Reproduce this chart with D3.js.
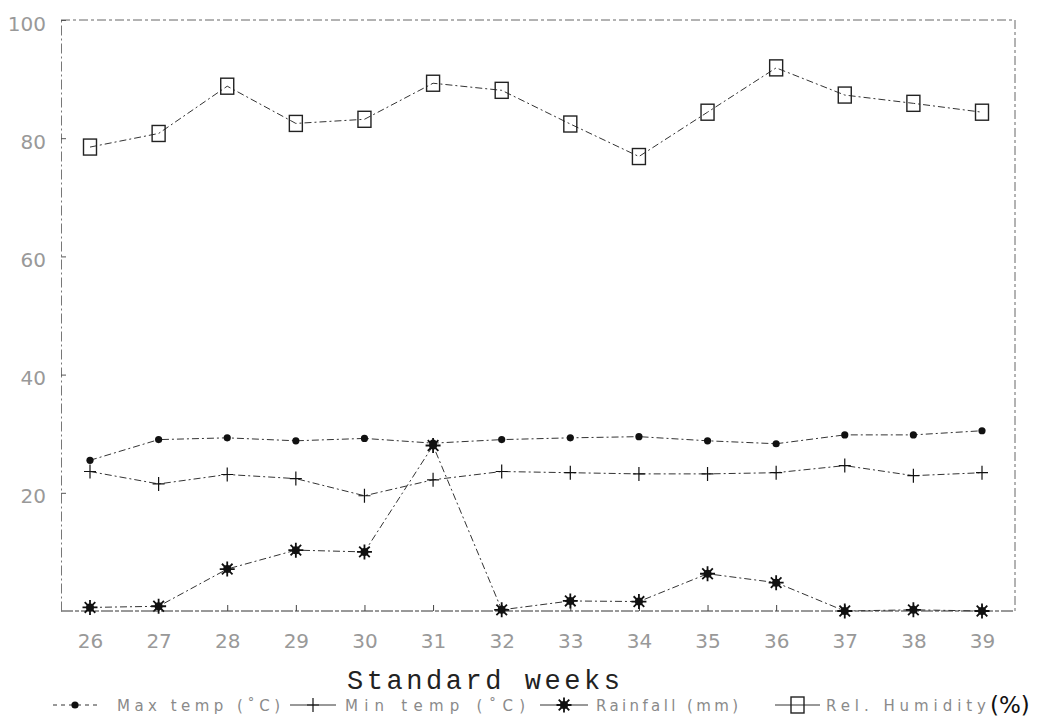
<!DOCTYPE html>
<html>
<head>
<meta charset="utf-8">
<script src="https://cdn.jsdelivr.net/npm/d3@7"></script>
<style>
  body { margin: 0; background: #fff; }
  svg { display: block; }
  .tick text { font-family: "DejaVu Sans", sans-serif; font-size: 20px; fill: #999; }
</style>
</head>
<body>
<svg id="chart" width="1046" height="728"></svg>
<script>
// weekly weather data
var weeks    = [26, 27, 28, 29, 30, 31, 32, 33, 34, 35, 36, 37, 38, 39];
var maxTemp  = [25.5, 29.0, 29.3, 28.8, 29.2, 28.4, 29.0, 29.3, 29.5, 28.8, 28.3, 29.8, 29.8, 30.5];
var minTemp  = [23.6, 21.5, 23.1, 22.4, 19.5, 22.2, 23.6, 23.4, 23.2, 23.2, 23.4, 24.6, 22.9, 23.4];
var rainfall = [0.6, 0.8, 7.1, 10.3, 10.0, 28.0, 0.2, 1.7, 1.6, 6.3, 4.8, 0, 0.2, 0];
var humidity = [78.5, 80.8, 88.8, 82.5, 83.2, 89.3, 88.1, 82.4, 76.9, 84.4, 91.9, 87.3, 85.9, 84.4];

var yTicks = [20, 40, 60, 80, 100];
var seriesNames = ["Max temp (\u02DAC)", "Min temp (\u02DAC)", "Rainfall (mm)", "Rel. Humidity"];

var svg = d3.select("#chart");

var plotLeft = 61, plotRight = 1015, plotTop = 20, plotBottom = 611;

var x = d3.scaleLinear().domain([26, 39]).range([90, 982]);
var y = d3.scaleLinear().domain([0, 100]).range([plotBottom, plotTop]);

// frame (top + right)
svg.append("path")
    .attr("d", "M" + plotLeft + "," + plotTop + "H" + plotRight + "V" + plotBottom)
    .attr("fill", "none")
    .attr("stroke", "#666")
    .attr("stroke-dasharray", "9,3,3,3");

// x axis
var xAxis = svg.append("g")
    .attr("transform", "translate(0," + plotBottom + ")")
    .call(d3.axisBottom(x).tickValues(weeks).tickFormat(d3.format("d"))
        .tickSizeInner(-6).tickSizeOuter(0).tickPadding(23));
xAxis.select(".domain")
    .attr("d", "M" + plotLeft + ",0H" + plotRight)
    .attr("stroke", "#333")
    .attr("stroke-dasharray", "12,2,4,2");
xAxis.selectAll(".tick line").attr("stroke", "#444");

// y axis
var yAxis = svg.append("g")
    .attr("transform", "translate(" + plotLeft + ",0)")
    .call(d3.axisLeft(y).tickValues(yTicks)
        .tickSizeInner(-5).tickSizeOuter(0).tickPadding(15));
yAxis.select(".domain")
    .attr("stroke", "#777")
    .attr("stroke-dasharray", "10,3,2,3");
yAxis.selectAll(".tick line").attr("stroke", "#555");
yAxis.selectAll(".tick text").attr("dy", "0.5em").attr("fill", "#aaa");

// lines
var line = d3.line()
    .x(function(d, i) { return x(weeks[i]); })
    .y(function(d) { return y(d); });

var allSeries = [maxTemp, minTemp, rainfall, humidity];
for (var s = 0; s < allSeries.length; s++)
{
    svg.append("path")
        .datum(allSeries[s])
        .attr("d", line)
        .attr("fill", "none")
        .attr("stroke", "#333")
        .attr("stroke-width", 1)
        .attr("stroke-dasharray", "7,3,2,3");
}

// marker drawers
function dotMark(g) {
    g.append("circle").attr("r", 3.6).attr("fill", "#111");
}
function plusMark(g) {
    g.append("path").attr("d", "M-6,0H6M0,-7V7")
        .attr("stroke", "#111").attr("stroke-width", 1.2);
}
function starMark(g) {
    var d = "";
    for (var k = 0; k < 8; k++) {
        var a = k * Math.PI / 4;
        d += "M0,0L" + (7.5 * Math.cos(a)).toFixed(2) + "," + (7.5 * Math.sin(a)).toFixed(2);
    }
    g.append("path").attr("d", d).attr("stroke", "#111").attr("stroke-width", 1.8);
    g.append("circle").attr("r", 4).attr("fill", "#111");
}
function squareMark(g) {
    g.append("rect").attr("x", -6.5).attr("y", -8).attr("width", 13).attr("height", 16)
        .attr("fill", "none").attr("stroke", "#222").attr("stroke-width", 1.4);
}
var markers = [dotMark, plusMark, starMark, squareMark];

allSeries.forEach(function(series, s) {
    svg.append("g").selectAll("g")
        .data(series)
        .enter().append("g")
        .attr("transform", function(d, i) { return "translate(" + x(weeks[i]) + "," + y(d) + ")"; })
        .each(function() { markers[s](d3.select(this)); });
});

// axis title
svg.append("text")
    .attr("x", 347)
    .attr("y", 689)
    .attr("font-family", "Liberation Mono, monospace")
    .attr("font-size", 27)
    .attr("fill", "#222")
    .attr("textLength", 273)
    .attr("lengthAdjust", "spacing")
    .text("Standard weeks");

// legend
var legY = 705;
var legSym = [[53, 97], [290, 336], [540, 588], [775, 820]];
var legText = [[117, 163], [345, 180], [596, 142], [826, 160]];
seriesNames.forEach(function(name, s) {
    svg.append("line")
        .attr("x1", legSym[s][0]).attr("x2", legSym[s][1])
        .attr("y1", legY).attr("y2", legY)
        .attr("stroke", "#333").attr("stroke-width", 1)
        .attr("stroke-dasharray", s == 0 ? "4,4" : null);
    var g = svg.append("g")
        .attr("transform", "translate(" + ((legSym[s][0] + legSym[s][1]) / 2) + "," + legY + ")");
    markers[s](g);
    svg.append("text")
        .attr("x", legText[s][0])
        .attr("y", legY + 6)
        .attr("font-family", "DejaVu Sans, sans-serif")
        .attr("font-size", 15)
        .attr("fill", "#8a8a8a")
        .attr("textLength", legText[s][1])
        .attr("lengthAdjust", "spacing")
        .text(name);
});
svg.append("text")
    .attr("x", 990)
    .attr("y", legY + 8)
    .attr("font-family", "DejaVu Sans, sans-serif")
    .attr("font-size", 23)
    .attr("fill", "#111")
    .text("(%)");
</script>
</body>
</html>
